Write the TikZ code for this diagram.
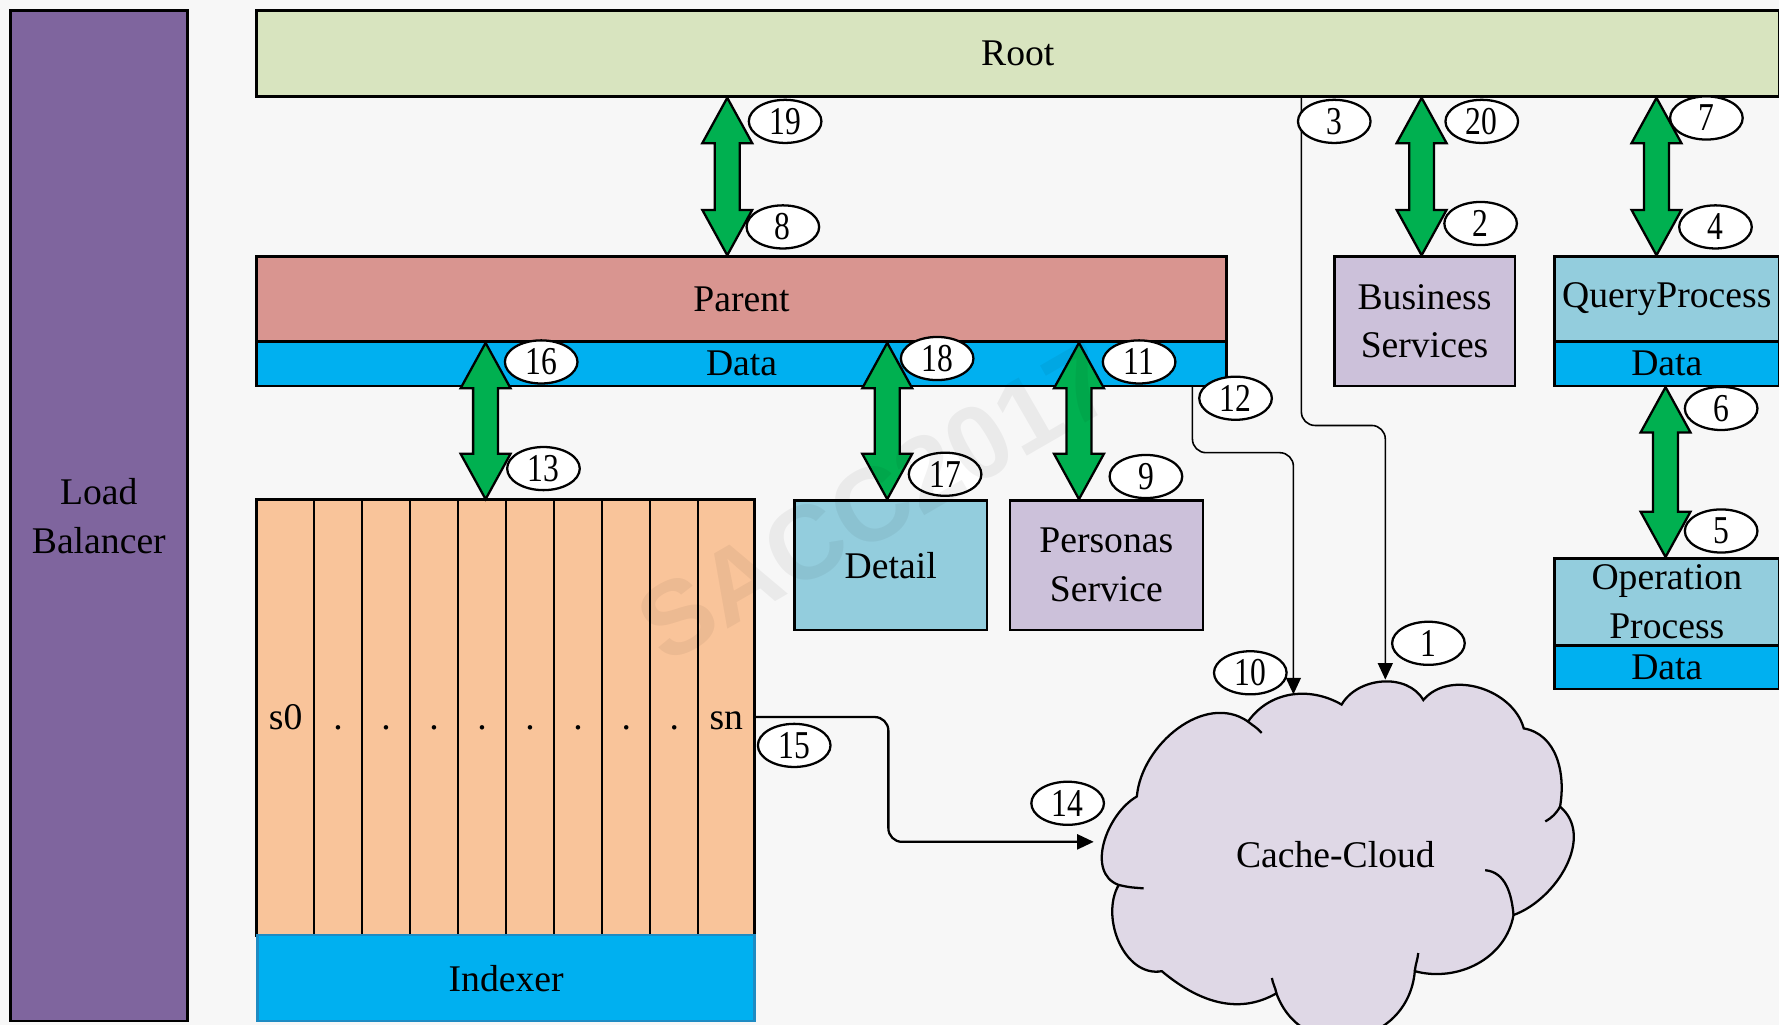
\documentclass[tikz,border=0pt]{standalone}
\usepackage{fontspec}
\setmainfont{Liberation Serif}
\newfontfamily\numfont[FakeStretch=0.8]{Liberation Serif}
\newfontfamily\wmfont{Liberation Sans}
\usetikzlibrary{arrows.meta,shapes.geometric,calc}
\definecolor{bgc}{HTML}{F7F7F7}
\definecolor{lbc}{HTML}{7F659E}
\definecolor{rootc}{HTML}{D8E4BF}
\definecolor{parc}{HTML}{D99590}
\definecolor{datac}{HTML}{00B0F0}
\definecolor{lilac}{HTML}{CCC1DA}
\definecolor{tealc}{HTML}{93CDDD}
\definecolor{shardc}{HTML}{F9C49A}
\definecolor{cloudc}{HTML}{DFD8E6}
\definecolor{agreen}{HTML}{00B050}
\definecolor{idxb}{HTML}{1E8BC3}
\begin{document}
\begin{tikzpicture}[x=0.5pt,y=0.5pt,
  font=\fontsize{16.6}{21.5}\selectfont,
  box/.style={draw=black, line width=1.1pt, inner sep=0pt, anchor=north west, align=center},
  col/.style={draw=black, line width=0.8pt, fill=shardc, inner sep=0pt, anchor=north west,
              minimum height=191.5pt, text height=11pt, text depth=0pt},
  lbl/.style={ellipse, draw=black, line width=1pt, fill=white, minimum width=32pt,
              minimum height=19pt, inner sep=0pt, font=\numfont\fontsize{17.4}{18}\selectfont},
  conn/.style={draw=black, line width=0.7pt, rounded corners=6pt},
  tip/.style={-{Triangle[length=7.3pt,width=6.6pt]}},
  fat/.style={draw=black, line width=1pt, fill=agreen, line join=miter,
    to path={(\tikztostart) -- ($(\tikztostart)+(22,-40)$) -- ($(\tikztostart)+(11,-40)$)
      -- ($(\tikztotarget)+(11,40)$) -- ($(\tikztotarget)+(22,40)$) -- (\tikztotarget)
      -- ($(\tikztotarget)+(-22,40)$) -- ($(\tikztotarget)+(-11,40)$)
      -- ($(\tikztostart)+(-11,-40)$) -- ($(\tikztostart)+(-22,-40)$) -- cycle}},
  cloudline/.style={draw=black, line width=1pt}
  ]
\fill[bgc] (0,0) rectangle (1568,-903);
\useasboundingbox (0,0) rectangle (1568,-903);

% boxes
\node[box, fill=lbc, minimum width=78pt, minimum height=445.5pt] (lb) at (8,-8) {Load\\Balancer};
\node[box, fill=rootc, minimum width=671pt, minimum height=38pt] (root) at (225,-8) {Root};
\node[box, fill=parc, minimum width=427.5pt, minimum height=37.5pt] (parent) at (225,-225) {Parent};
\node[box, fill=datac, minimum width=427.5pt, minimum height=19.5pt] (pdata) at (225,-300) {Data};
\node[box, fill=lilac, minimum width=79.5pt, minimum height=57pt] (bs) at (1175,-225) {Business\\Services};
\node[box, fill=tealc, minimum width=99pt, minimum height=37.5pt] (qp) at (1369,-225) {QueryProcess};
\node[box, fill=datac, minimum width=99pt, minimum height=19.5pt] (qdata) at (1369,-300) {Data};
\node[box, fill=tealc, minimum width=99pt, minimum height=38.5pt] (op) at (1369,-491) {Operation\\Process};
\node[box, fill=datac, minimum width=99pt, minimum height=19pt] (odata) at (1369,-568) {Data};
\node[box, fill=tealc, minimum width=85pt, minimum height=57pt] (detail) at (699,-440) {Detail};
\node[box, fill=lilac, minimum width=85pt, minimum height=57pt] (personas) at (889,-440) {Personas\\Service};

% shards
\foreach \n/\x/\w/\t in {1/226/25/s0, 2/276/21.15/., 3/318.3/21.15/., 4/360.6/21.15/., 5/403/21.15/.,
   6/445.3/21.15/., 7/487.6/21.15/., 8/530/21.15/., 9/572.3/21.15/., 10/614.6/24.7/sn}
  \node[col, minimum width=\w pt] (s\n) at (\x,-440) {\t};
\draw[line width=1pt] (s1.north west) rectangle (s10.south east);
\node[box, fill=datac, draw=idxb, minimum width=219pt, minimum height=38pt] (idx) at (226,-823) {Indexer};

% cloud
\path[fill=cloudc, cloudline] (1002,-702) to[out=85,in=145] (1100,-636) to[out=55,in=150] (1182.5,-621)
  to[out=60,in=120] (1254.5,-617) to[out=50,in=105] (1343,-642) to[out=-10,in=80] (1375,-711)
  to[out=-40,in=20] (1334,-806.5) to[out=-100,in=-15] (1247,-856)
  to[out=-95,in=-70,looseness=1.4] (1125,-875.5) to[out=-150,in=-40] (1024,-856)
  to[out=190,in=240] (986,-780) to[out=160,in=210] (1002,-702) -- cycle;
\draw[cloudline] (986,-780) .. controls (995,-782) .. (1008,-783);
\draw[cloudline] (1125,-875.5) to[out=100,in=-80] (1121,-862);
\draw[cloudline] (1247,-856) to[out=85,in=-95] (1250,-840);
\draw[cloudline] (1309,-767) to[out=-5,in=95] (1334,-806.5);
\draw[cloudline] (1375,-711) to[out=-120,in=30] (1362,-724);
\draw[cloudline] (1100,-636) to[out=-40,in=130] (1112,-646);
\node (cloud) at (1177,-753) {Cache-Cloud};
\coordinate (cl1) at (1221,-599);
\coordinate (cl10) at (1140,-612);
\coordinate (cl14) at (964,-742);

% thin connectors
\coordinate (c3) at (1147,-375);
\draw[conn,tip] (root.south -| c3) -- (c3) -- (c3 -| cl1) -- (cl1);
\coordinate (c12) at (1051,-399);
\draw[conn,tip] (pdata.south -| c12) -- (c12) -- (c12 -| cl10) -- (cl10);
\coordinate (c15) at (783,-632);
\draw[conn,tip,line width=1pt] (s10.east |- c15) -- (c15) -- (c15 |- cl14) -- (cl14);

% fat arrows
\coordinate (a1) at (641,0);
\coordinate (a2) at (1253,0);
\coordinate (a3) at (1460,0);
\coordinate (a4) at (1468,0);
\coordinate (a5) at (428,0);
\coordinate (a6) at (782,0);
\coordinate (a7) at (951,0);
\path[fat] (root.south -| a1) to (parent.north -| a1);
\path[fat] (root.south -| a2) to (bs.north -| a2);
\path[fat] (root.south -| a3) to (qp.north -| a3);
\path[fat] (qdata.south -| a4) to (op.north -| a4);
\path[fat] (parent.south -| a5) to (s5.north -| a5);
\path[fat] (parent.south -| a6) to (detail.north -| a6);
\path[fat] (parent.south -| a7) to (personas.north -| a7);

% number labels
\node[lbl] (n19) at (692,-107) {19};
\node[lbl] (n8) at (690,-200) {8};
\node[lbl] (n3) at (1176,-107) {3};
\node[lbl] (n20) at (1306,-107) {20};
\node[lbl] (n2) at (1305,-197) {2};
\node[lbl] (n7) at (1504,-104) {7};
\node[lbl] (n4) at (1512,-200) {4};
\node[lbl] (n6) at (1517,-360) {6};
\node[lbl] (n5) at (1517,-468) {5};
\node[lbl] (n16) at (477,-319) {16};
\node[lbl] (n13) at (479,-413) {13};
\node[lbl] (n18) at (826,-316) {18};
\node[lbl] (n17) at (833,-418) {17};
\node[lbl] (n11) at (1004,-319) {11};
\node[lbl] (n9) at (1010,-420) {9};
\node[lbl] (n12) at (1089,-351) {12};
\node[lbl] (n10) at (1102,-593) {10};
\node[lbl] (n1) at (1259,-567) {1};
\node[lbl] (n15) at (700,-657) {15};
\node[lbl] (n14) at (941,-708) {14};

% watermark
\node[rotate=30, text=black, text opacity=0.05, font=\wmfont\bfseries\fontsize{46}{46}\selectfont] (wm) at (772,-443) {SACC2017};
\end{tikzpicture}
\end{document}
